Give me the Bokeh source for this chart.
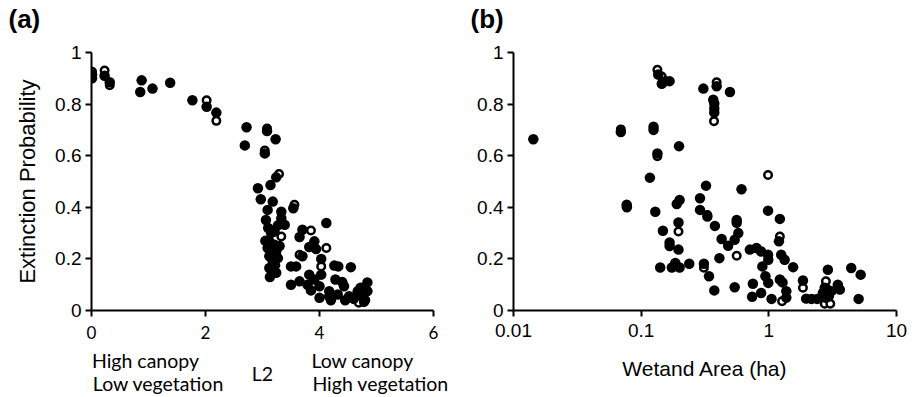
from bokeh.plotting import figure
from bokeh.layouts import row
from bokeh.models import (FixedTicker, CustomJSTickFormatter, Range1d, LinearAxis, Title)
from bokeh.embed import file_html
from bokeh.resources import INLINE

# ---------------- data ----------------
# Panel (a): L2 gradient vs extinction probability
a_filled_l2 = [0.01, 0.01, 0.23, 0.32, 0.88, 0.855, 1.07, 1.38, 1.77, 2.02, 2.19, 2.72, 2.69,
               3.08, 3.23, 3.04, 3.24, 2.92, 3.14, 2.97, 3.18, 3.54, 3.09, 3.33, 3.06, 3.33,
               3.39, 4.12, 3.70, 3.21, 3.65, 3.12, 3.21, 3.09, 3.24, 3.12, 3.27, 3.12, 3.24,
               3.91, 3.82, 3.94, 3.70, 4.03, 3.50, 3.59, 4.26, 4.33, 4.55, 3.82, 4.03, 3.91,
               3.79, 3.50, 3.65, 3.85, 4.00, 4.17, 4.32, 4.00, 4.43, 4.52, 4.17, 4.84, 4.72,
               4.84, 4.75, 4.67, 3.15, 3.10, 3.27, 3.05, 3.18, 3.30, 3.13, 3.22, 4.20, 4.45,
               4.60, 4.80, 4.28, 4.40]
a_filled_p = [0.915, 0.900, 0.910, 0.885, 0.892, 0.847, 0.860, 0.883, 0.815, 0.790, 0.767, 0.710, 0.640,
              0.696, 0.664, 0.609, 0.516, 0.474, 0.486, 0.431, 0.422, 0.396, 0.390, 0.383, 0.351, 0.358,
              0.332, 0.339, 0.313, 0.306, 0.285, 0.268, 0.255, 0.242, 0.229, 0.210, 0.203, 0.165, 0.146,
              0.268, 0.246, 0.238, 0.210, 0.200, 0.171, 0.171, 0.174, 0.171, 0.168, 0.139, 0.139, 0.120,
              0.100, 0.100, 0.113, 0.078, 0.094, 0.075, 0.062, 0.049, 0.094, 0.055, 0.055, 0.109, 0.088,
              0.075, 0.055, 0.075, 0.300, 0.320, 0.330, 0.270, 0.190, 0.250, 0.130, 0.175, 0.040, 0.040,
              0.045, 0.040, 0.120, 0.110]
a_open_l2 = [0.01, 0.23, 0.32, 2.02, 2.19, 3.08, 3.04, 3.29, 3.56, 3.85, 3.33, 4.12, 3.65, 4.03, 4.69, 4.78]
a_open_p = [0.925, 0.930, 0.873, 0.815, 0.735, 0.705, 0.620, 0.529, 0.410, 0.310, 0.287, 0.242, 0.216,
            0.171, 0.030, 0.032]

# Panel (b): wetland area (ha) vs extinction probability
b_filled_area = [0.0143, 0.0693, 0.0773, 0.136, 0.145, 0.167, 0.155, 0.307, 0.39, 0.496, 0.367, 0.374,
                 0.374, 0.374, 0.125, 0.125, 0.198, 0.134, 0.117, 0.322, 0.611, 0.077, 0.129, 0.19,
                 0.2, 0.289, 0.289, 0.986, 0.33, 0.378, 0.56, 0.56, 1.22, 0.148, 0.196, 0.577, 0.54,
                 0.427, 0.48, 0.167, 0.167, 0.196, 1.2, 0.71, 0.80, 0.87, 0.986, 0.99, 1.25, 1.33,
                 0.41, 0.141, 0.174, 0.185, 0.2, 0.238, 0.31, 0.34, 0.89, 0.94, 0.99, 1.55, 0.374,
                 0.54, 0.75, 0.74, 0.87, 1.05, 1.22, 1.28, 1.37, 1.37, 1.85, 1.96, 2.16, 2.39, 2.9,
                 2.74, 2.9, 2.65, 3.1, 2.8, 2.95, 3.47, 3.6, 4.42, 5.24, 5.05]
b_filled_p = [0.664, 0.692, 0.400, 0.915, 0.879, 0.889, 0.889, 0.860, 0.869, 0.847, 0.817, 0.802,
              0.783, 0.767, 0.712, 0.700, 0.637, 0.609, 0.515, 0.484, 0.470, 0.410, 0.383, 0.413,
              0.428, 0.435, 0.390, 0.387, 0.364, 0.328, 0.351, 0.340, 0.355, 0.309, 0.341, 0.300, 0.274,
              0.277, 0.251, 0.264, 0.250, 0.236, 0.268, 0.236, 0.242, 0.229, 0.216, 0.197, 0.216, 0.197,
              0.203, 0.167, 0.167, 0.184, 0.167, 0.181, 0.181, 0.133, 0.171, 0.133, 0.107, 0.168, 0.078,
              0.090, 0.104, 0.053, 0.068, 0.045, 0.120, 0.109, 0.075, 0.050, 0.116, 0.046, 0.045, 0.045, 0.158,
              0.088, 0.080, 0.068, 0.075, 0.049, 0.055, 0.100, 0.081, 0.165, 0.139, 0.045]
b_open_area = [0.0693, 0.0773, 0.134, 0.145, 0.39, 0.372, 0.134, 0.986, 0.33, 0.196, 1.22, 0.56, 0.31,
               1.27, 1.85, 2.8, 2.74, 3.03]
b_open_p = [0.702, 0.405, 0.933, 0.907, 0.885, 0.734, 0.598, 0.525, 0.370, 0.306, 0.287, 0.212, 0.166,
            0.036, 0.088, 0.113, 0.026, 0.026]

y_ticks = [0, 0.2, 0.4, 0.6, 0.8, 1]
a_x_ticks = [0, 2, 4, 6]
b_x_ticks = [0.01, 0.1, 1, 10]
a_row1_texts = ["High canopy", "Low canopy"]
a_row2_texts = ["Low vegetation", "High vegetation"]
a_axis_title = "L2"

ARIAL = "Liberation Sans"
CAL = "Lato"


def style_axis(ax, font, size):
    ax.axis_line_color = "black"
    ax.axis_line_width = 2
    ax.major_tick_line_color = "black"
    ax.major_tick_line_width = 2
    ax.major_tick_out = 6
    ax.major_tick_in = 0
    ax.minor_tick_line_color = None
    ax.major_label_text_font = font
    ax.major_label_text_font_size = size
    ax.major_label_text_color = "black"
    ax.axis_label_text_font_style = "normal"
    ax.axis_label_text_color = "black"


def panel_fig(width, left, right, label, offset, spacer_tick, **kw):
    p = figure(width=width, height=397, output_backend="svg", toolbar_location=None,
               min_border_left=left, min_border_right=right, min_border_top=52,
               min_border_bottom=86, **kw)
    p.grid.visible = False
    p.outline_line_color = None
    p.background_fill_color = "white"
    p.border_fill_color = "white"
    xa, ya = p.below[0], p.left[0]
    # invisible spacer above the frame (one hidden tick), then the panel letter outside it
    spacer = LinearAxis(ticker=FixedTicker(ticks=[spacer_tick], minor_ticks=[]),
                        major_label_overrides={spacer_tick: ""},
                        axis_line_color=None, major_tick_line_color=None,
                        minor_tick_line_color=None, major_tick_out=19, major_tick_in=0,
                        major_label_standoff=0, major_label_text_font_size="1px",
                        major_label_text_color=None)
    letter = Title(text=label, align="left", offset=offset, standoff=0,
                   text_font=ARIAL, text_font_size="26px", text_font_style="bold",
                   text_color="black")
    p.above = [spacer, letter]
    return p, xa, ya


def text_axis(p, positions, texts, standoff, title="", title_standoff=0):
    ax = LinearAxis(x_range_name="px", ticker=FixedTicker(ticks=positions, minor_ticks=[]),
                    major_label_overrides=dict(zip(positions, texts)),
                    axis_line_color=None, major_tick_line_color=None,
                    minor_tick_line_color=None, major_tick_out=0, major_tick_in=0,
                    major_label_standoff=standoff,
                    major_label_text_font=CAL, major_label_text_font_size="19.5px",
                    major_label_text_color="black")
    if title:
        ax.axis_label = title
        ax.axis_label_text_font = CAL
        ax.axis_label_text_font_size = "19.5px"
        ax.axis_label_text_font_style = "normal"
        ax.axis_label_text_color = "black"
        ax.axis_label_standoff = title_standoff
    p.add_layout(ax, "below")
    return ax


yfmt = "return (Math.round(tick*10)/10).toString();"

# ---------------- panel (a) ----------------
p1, xa1, ya1 = panel_fig(470, 91, 37, "(a)", -83, 3,
                         x_range=Range1d(0, 6), y_range=Range1d(0, 1))
xa1.ticker = FixedTicker(ticks=a_x_ticks, minor_ticks=[])
ya1.ticker = FixedTicker(ticks=y_ticks, minor_ticks=[])
ya1.formatter = CustomJSTickFormatter(code=yfmt)
style_axis(xa1, CAL, "17px")
style_axis(ya1, ARIAL, "19px")
xa1.major_label_standoff = 9
ya1.major_label_standoff = 4
ya1.axis_label = "Extinction Probability"
ya1.axis_label_text_font = ARIAL
ya1.axis_label_text_font_size = "22px"
ya1.axis_label_standoff = 12

# pixel-like range spanning the frame, used only to place the gradient notes
p1.extra_x_ranges = {"px": Range1d(91, 433)}
text_axis(p1, [145, 362], a_row1_texts, 7, a_axis_title, -13)
text_axis(p1, [158, 380], a_row2_texts, -16)

p1.scatter(a_open_l2, a_open_p, marker="circle", size=7.5, fill_color="white",
           line_color="black", line_width=2.5)
p1.scatter(a_filled_l2, a_filled_p, marker="circle", size=10.5, fill_color="black",
           line_color=None)

# ---------------- panel (b) ----------------
p2, xa2, ya2 = panel_fig(448, 43, 22, "(b)", -43, 1, x_axis_type="log",
                         x_range=Range1d(0.01, 10), y_range=Range1d(0, 1))
xa2.ticker = FixedTicker(ticks=b_x_ticks, minor_ticks=[])
xa2.formatter = CustomJSTickFormatter(code="return tick.toString();")
ya2.ticker = FixedTicker(ticks=y_ticks, minor_ticks=[])
ya2.formatter = CustomJSTickFormatter(code=yfmt)
style_axis(xa2, ARIAL, "19px")
style_axis(ya2, ARIAL, "19px")
xa2.major_label_standoff = 7
ya2.major_label_standoff = 4
xa2.axis_label = "Wetand Area (ha)"
xa2.axis_label_text_font = ARIAL
xa2.axis_label_text_font_size = "21px"
xa2.axis_label_standoff = 17

p2.scatter(b_open_area, b_open_p, marker="circle", size=7.5, fill_color="white",
           line_color="black", line_width=2.5)
p2.scatter(b_filled_area, b_filled_p, marker="circle", size=10.5, fill_color="black",
           line_color=None)

layout = row(p1, p2)
open("out.html", "w").write(file_html(layout, INLINE))
